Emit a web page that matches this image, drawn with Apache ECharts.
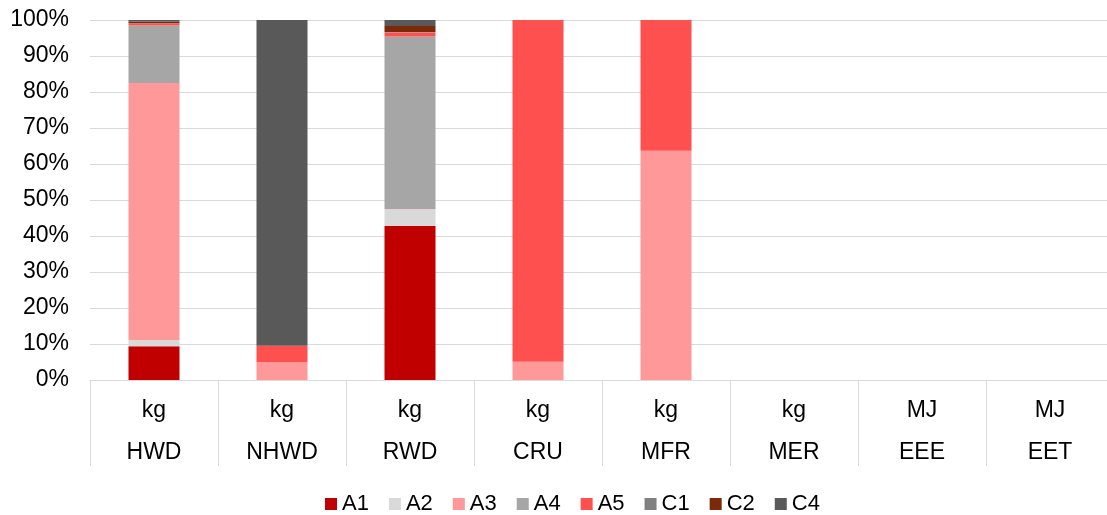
<!DOCTYPE html>
<html>
<head>
<meta charset="utf-8">
<script src="https://cdn.jsdelivr.net/npm/echarts@6/dist/echarts.min.js"></script>
<style>
html,body{margin:0;padding:0;background:#fff;}
#c{width:1107px;height:515px;}
</style>
</head>
<body>
<div id="c"></div>
<script>
const units = ['kg','kg','kg','kg','kg','kg','MJ','MJ'];
const categories = ['HWD','NHWD','RWD','CRU','MFR','MER','EEE','EET'];
const seriesNames = ['A1','A2','A3','A4','A5','C1','C2','C4'];
const A1 = [9.4, 0, 42.8, 0, 0, 0, 0, 0];
const A2 = [1.7, 0, 4.6, 0, 0, 0, 0, 0];
const A3 = [71.4, 5.0, 0.1, 5.1, 63.7, 0, 0, 0];
const A4 = [16.0, 0, 47.9, 0, 0, 0, 0, 0];
const A5 = [0.5, 4.5, 1.1, 94.9, 36.3, 0, 0, 0];
const C1 = [0.1, 0, 0.2, 0, 0, 0, 0, 0];
const C2 = [0.5, 0, 1.6, 0, 0, 0, 0, 0];
const C4 = [0.4, 90.5, 1.7, 0, 0, 0, 0, 0];
const colors = ['#c00000','#d9d9d9','#ff9999','#a6a6a6','#ff5050','#808080','#7b2909','#595959'];
const values = [A1, A2, A3, A4, A5, C1, C2, C4];
const yTicks = {min: 0, max: 100, interval: 10};

const chart = echarts.init(document.getElementById('c'), null, {renderer: 'canvas'});
const font = 'Liberation Sans, Arial, sans-serif';
chart.setOption({
  animation: false,
  color: colors,
  grid: {left: 90, width: 1024, top: 20, height: 360, containLabel: false, outerBoundsMode: 'none'},
  legend: {
    data: seriesNames,
    left: 320, top: 488,
    icon: 'rect', itemWidth: 12, itemHeight: 12, itemGap: 20,
    textStyle: {fontFamily: font, fontSize: 22, color: '#000'}
  },
  xAxis: {
    type: 'category',
    data: categories.map((c, i) => units[i] + '\n' + c),
    axisLine: {lineStyle: {color: '#d9d9d9', width: 1}},
    axisTick: {show: true, length: 86, lineStyle: {color: '#d9d9d9', width: 1}},
    axisLabel: {fontFamily: font, fontSize: 23, color: '#000', lineHeight: 42, margin: 10, interval: 0}
  },
  yAxis: {
    type: 'value',
    min: yTicks.min, max: yTicks.max, interval: yTicks.interval,
    axisLine: {show: false},
    axisTick: {show: false},
    axisLabel: {formatter: '{value}%', fontFamily: font, fontSize: 23, color: '#000', margin: 21},
    splitLine: {lineStyle: {color: '#d9d9d9', width: 1}}
  },
  series: seriesNames.map((n, i) => ({
    name: n,
    type: 'bar',
    stack: 'total',
    barWidth: 51,
    data: values[i],
    itemStyle: {color: colors[i]}
  }))
});
</script>
</body>
</html>
